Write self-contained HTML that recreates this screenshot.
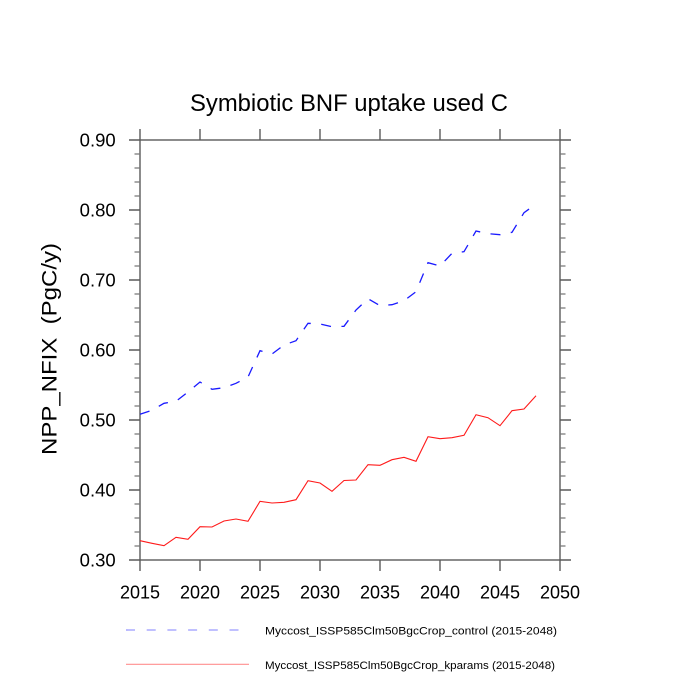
<!DOCTYPE html>
<html>
<head>
<meta charset="utf-8">
<style>
html,body{margin:0;padding:0;background:#fff;}
svg{display:block;}
text{font-family:"Liberation Sans",Arial,sans-serif;fill:#000;}
</style>
</head>
<body>
<svg width="700" height="700" viewBox="0 0 700 700" xmlns="http://www.w3.org/2000/svg">
<rect width="700" height="700" fill="#fff"/>
<!-- title -->
<text x="190" y="111" font-size="24" textLength="318" lengthAdjust="spacingAndGlyphs">Symbiotic BNF uptake used C</text>

<!-- y axis label -->
<text transform="rotate(-90)" x="-349" y="56.5" font-size="21" text-anchor="middle" textLength="212" lengthAdjust="spacingAndGlyphs" xml:space="preserve" style="white-space:pre">NPP_NFIX  (PgC/y)</text>

<!-- axes box -->
<g stroke="#5a5a5a" stroke-width="1.4" fill="none">
<rect x="140" y="140" width="420" height="420"/>
<path d="M129 140H140M129 210H140M129 280H140M129 350H140M129 420H140M129 490H140M129 560H140"/>
<path d="M560 140H571M560 210H571M560 280H571M560 350H571M560 420H571M560 490H571M560 560H571"/>
<path d="M140 560V571M200 560V571M260 560V571M320 560V571M380 560V571M440 560V571M500 560V571M560 560V571"/>
<path d="M140 140V129M200 140V129M260 140V129M320 140V129M380 140V129M440 140V129M500 140V129M560 140V129"/>
</g>
<g stroke="#777" stroke-width="1.2" fill="none">
<path d="M134.5 154H140M134.5 168H140M134.5 182H140M134.5 196H140
M134.5 224H140M134.5 238H140M134.5 252H140M134.5 266H140
M134.5 294H140M134.5 308H140M134.5 322H140M134.5 336H140
M134.5 364H140M134.5 378H140M134.5 392H140M134.5 406H140
M134.5 434H140M134.5 448H140M134.5 462H140M134.5 476H140
M134.5 504H140M134.5 518H140M134.5 532H140M134.5 546H140"/>
<path d="M560 154H565.5M560 168H565.5M560 182H565.5M560 196H565.5
M560 224H565.5M560 238H565.5M560 252H565.5M560 266H565.5
M560 294H565.5M560 308H565.5M560 322H565.5M560 336H565.5
M560 364H565.5M560 378H565.5M560 392H565.5M560 406H565.5
M560 434H565.5M560 448H565.5M560 462H565.5M560 476H565.5
M560 504H565.5M560 518H565.5M560 532H565.5M560 546H565.5"/>
</g>

<!-- y tick labels -->
<g font-size="18.5" text-anchor="end">
<text x="115.7" y="146.7">0.90</text>
<text x="115.7" y="216.7">0.80</text>
<text x="115.7" y="286.7">0.70</text>
<text x="115.7" y="356.7">0.60</text>
<text x="115.7" y="426.7">0.50</text>
<text x="115.7" y="496.7">0.40</text>
<text x="115.7" y="566.7">0.30</text>
</g>
<!-- x tick labels -->
<g font-size="18" text-anchor="middle">
<text x="140" y="598.3">2015</text>
<text x="200" y="598.3">2020</text>
<text x="260" y="598.3">2025</text>
<text x="320" y="598.3">2030</text>
<text x="380" y="598.3">2035</text>
<text x="440" y="598.3">2040</text>
<text x="500" y="598.3">2045</text>
<text x="560" y="598.3">2050</text>
</g>

<!-- blue dashed series -->
<polyline fill="none" stroke="#1a1aff" stroke-width="1.3" stroke-dasharray="10 10.5"
points="140,414.3 152,410.3 164,403.3 176,401.3 188,392 200,382 212,389.3 224,387.7 236,383.3 248,377 260,350.7 272,354 284,345 296,340.7 308,323.3 320,324 332,326.7 344,326.3 356,310 368,298.7 380,305.7 392,304.7 404,300.7 416,291.7 428,262.7 440,266 452,253.3 464,251.7 476,231 488,233.7 500,234.7 512,232.3 524,212.7 536,204"/>

<!-- red solid series -->
<polyline fill="none" stroke="#ff1a1a" stroke-width="1.1"
points="140,540.7 152,543.3 164,545.7 176,537.3 188,539.3 200,526.7 212,527 224,521 236,519 248,521.3 260,501.3 272,503 284,502.3 296,499.7 308,480.7 320,483 332,491.3 344,480.5 356,480 368,464.7 380,465.3 392,459.7 404,457.3 416,461.3 428,436.7 440,438.7 452,437.7 464,435.3 476,414.7 488,417.7 500,425.7 512,410.7 524,409 536,395.7"/>

<!-- legend -->
<line x1="126" y1="630" x2="241" y2="630" stroke="#8080ff" stroke-width="1.1" stroke-dasharray="9 11.7"/>
<line x1="126" y1="664.3" x2="249" y2="664.3" stroke="#ff8f8f" stroke-width="1.1"/>
<text x="265" y="634.3" font-size="11" textLength="292" lengthAdjust="spacingAndGlyphs">Myccost_ISSP585Clm50BgcCrop_control (2015-2048)</text>
<text x="265" y="669" font-size="11" textLength="290" lengthAdjust="spacingAndGlyphs">Myccost_ISSP585Clm50BgcCrop_kparams (2015-2048)</text>
</svg>
</body>
</html>
